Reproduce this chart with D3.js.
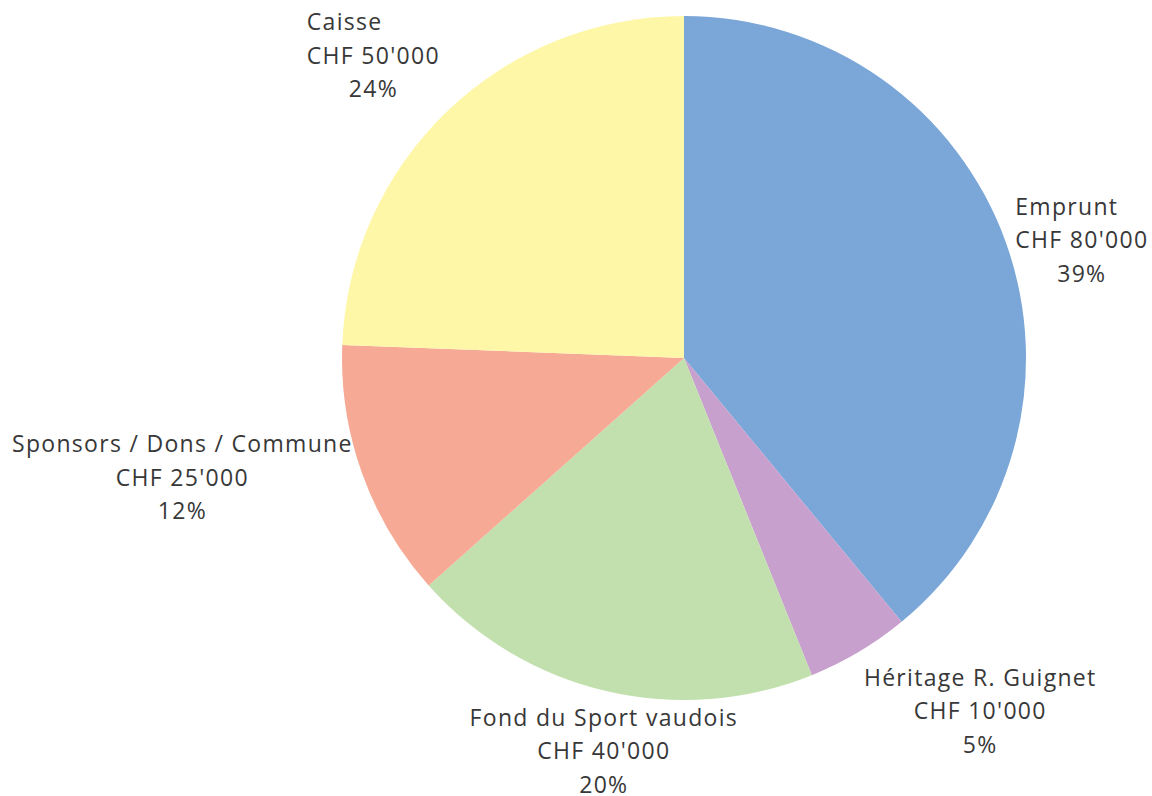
<!DOCTYPE html>
<html>
<head>
<meta charset="utf-8">
<script src="https://cdn.jsdelivr.net/npm/d3@7"></script>
<style>
  body { margin: 0; background: #fff; }
  svg { display: block; }
</style>
</head>
<body>
<div class="pie"></div>
<script>
// financement
const categories = ["Emprunt", "Héritage R. Guignet", "Fond du Sport vaudois", "Sponsors / Dons / Commune", "Caisse"];
const amounts = [80000, 10000, 40000, 25000, 50000];
const amountLabels = ["CHF 80'000", "CHF 10'000", "CHF 40'000", "CHF 25'000", "CHF 50'000"];
const percentLabels = ["39%", "5%", "20%", "12%", "24%"];
const colors = ["#7ba6d8", "#c7a0cd", "#c2e0ad", "#f6a995", "#fff7a8"];

const width = 1152, height = 796;
const cx = 684, cy = 358, radius = 342;

const svg = d3.select(".pie").append("svg")
  .attr("width", width)
  .attr("height", height)
  .append("g")
  .attr("transform", "translate(" + cx + "," + cy + ")");

const data = categories.map((c, i) => ({
  name: c, value: amounts[i], amount: amountLabels[i], pct: percentLabels[i], color: colors[i]
}));

const pie = d3.pie().sort(null).value(d => d.value);
const arc = d3.arc().innerRadius(0).outerRadius(radius);
const arcs = pie(data);

svg.selectAll("path")
  .data(arcs)
  .enter()
  .append("path")
  .attr("d", arc)
  .style("fill", d => d.data.color);

// "outside end" labels: the box is hooked to the anchor point by the side
// or corner facing the pie (8 compass sectors, like Excel does)
const labelArc = d3.arc().innerRadius(radius + 10).outerRadius(radius + 10);
const lineH = 33.5;

arcs.forEach((d, i) => {
  const g = svg.append("g");
  const t = g.append("text")
    .style("font-family", "'Open Sans', sans-serif")
    .style("font-size", "23px")
    .style("letter-spacing", "1.3px")
    .style("fill", "#383838");
  const l1 = t.append("tspan").attr("x", 0).attr("y", 0).attr("text-anchor", "middle").text(d.data.name);
  const l2 = t.append("tspan").attr("x", 0).attr("y", lineH).attr("text-anchor", "middle").text(d.data.amount);
  t.append("tspan").attr("x", 0).attr("y", 2 * lineH).attr("text-anchor", "middle").text(d.data.pct);

  const w2 = l2.node().getComputedTextLength();
  // short first lines of the top labels sit flush left with the amount
  if (i === 0 || i === 4) {
    l1.attr("text-anchor", "start").attr("x", -w2 / 2);
  }
  const bb = t.node().getBBox();
  const w = bb.width, h = bb.height;
  const a = (d.startAngle + d.endAngle) / 2;
  const sector = Math.round(a / (Math.PI / 4)) * Math.PI / 4;
  const s = Math.sin(sector), c = -Math.cos(sector);
  const sx = Math.abs(s) < 0.3 ? 0 : Math.sign(s);
  const sy = Math.abs(c) < 0.3 ? 0 : Math.sign(c);
  const [px, py] = labelArc.centroid(d);
  const bx = px + sx * w / 2;
  const by = py + sy * h / 2;
  g.attr("transform", "translate(" + (bx - (bb.x + w / 2)) + "," + (by - (bb.y + h / 2)) + ")");
});
</script>
</body>
</html>
